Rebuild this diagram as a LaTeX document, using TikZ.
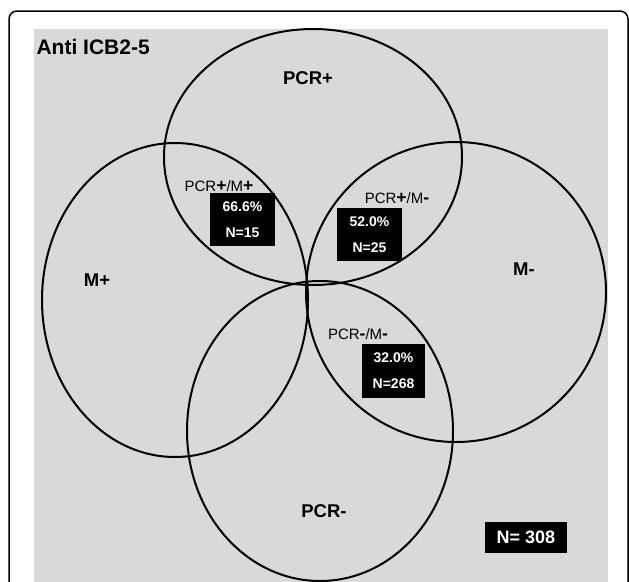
\documentclass[tikz,border=0pt]{standalone}
\usepackage{fontspec}
\setmainfont{Liberation Sans}
\definecolor{panelgray}{RGB}{217,217,217}
\tikzset{
  set/.style={line width=2pt},
  setlabel/.style={font=\bfseries\fontsize{18.5}{20}\selectfont},
  region/.style={font=\fontsize{15}{16}\selectfont, inner sep=0pt},
  count/.style={fill=black, text=white, font=\bfseries\fontsize{14}{26}\selectfont,
    align=center, inner sep=0pt, minimum width=65pt, minimum height=53pt},
}
\newcommand{\sgn}[1]{{\bfseries\fontsize{17.5}{16}\selectfont #1}}
\begin{document}
\begin{tikzpicture}[x=1pt,y=-1pt]
    \clip (0,0) rectangle (629,581);
    \draw[line width=1.5pt, rounded corners=8pt] (9,11) rectangle (628,620);
    \fill[panelgray] (34,29) rectangle (608,600);

    % the four sets
    \draw[set] (313,157) ellipse [x radius=149, y radius=128];
    \draw[set] (175,300) ellipse [x radius=133, y radius=157];
    \draw[set] (456,292) ellipse [x radius=150, y radius=150];
    \draw[set] (320,431) ellipse [x radius=133, y radius=150];

    \begin{scope}[every node/.style={setlabel}]
        \node[anchor=west, font=\bfseries\fontsize{21}{24}\selectfont] (title) at (33,47) {Anti ICB2-5};
        \node (pcrp) at (308,78) {PCR+};
        \node (mp) at (97,280) {M+};
        \node (mm) at (524,269) {M-};
        \node (pcrm) at (324,511) {PCR-};
    \end{scope}

    \begin{scope}[every node/.style={region}]
        \node (pp) at (219,186) {PCR\sgn{+}/M\sgn{+}};
        \node (pm) at (397,198) {PCR\sgn{+}/M\sgn{-}};
        \node (mmm) at (358,334) {PCR\sgn{-}/M\sgn{-}};
    \end{scope}

    \begin{scope}[every node/.style={count}]
        \node (c1) at (242.5,219.5) {66.6\%\\N=15};
        \node (c2) at (369.5,234.5) {52.0\%\\N=25};
        \node[minimum width=63pt, minimum height=54pt] (c3) at (393.5,371) {32.0\%\\N=268};
        \node[minimum width=82pt, minimum height=31pt, font=\bfseries\fontsize{18}{20}\selectfont] (total) at (526,537.5) {N= 308};
    \end{scope}
\end{tikzpicture}
\end{document}
